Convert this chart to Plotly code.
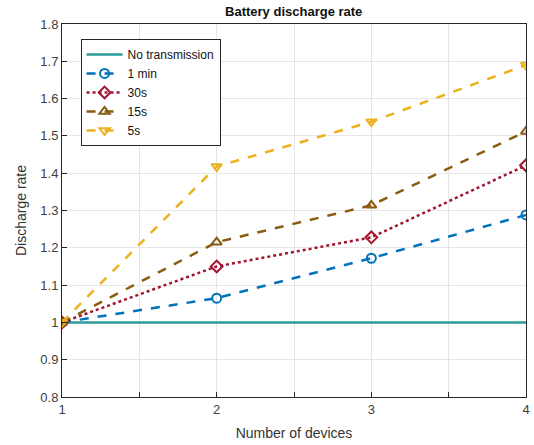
import plotly.graph_objects as go

devices = [1, 2, 3, 4]
no_transmission = [1.0, 1.0, 1.0, 1.0]
rate_1min = [1.0, 1.065, 1.172, 1.288]
rate_30s = [1.0, 1.150, 1.228, 1.421]
rate_15s = [1.0, 1.215, 1.314, 1.512]
rate_5s = [1.0, 1.418, 1.538, 1.690]

series = [
    ("No transmission", no_transmission, "#2a9d98", "solid", None),
    ("1 min", rate_1min, "#0072BD", "dash", "circle-open"),
    ("30s", rate_30s, "#A2142F", "dot", "diamond-open"),
    ("15s", rate_15s, "#8a5c12", "dash", "triangle-up-open"),
    ("5s", rate_5s, "#EDB120", "dash", "triangle-down-open"),
]

FONT = "Liberation Sans, Arial"

fig = go.Figure()
for name, vals, color, dash, symbol in series:
    fig.add_trace(go.Scatter(
        x=devices, y=vals, name=name,
        mode="lines" if symbol is None else "lines+markers",
        line=dict(color=color, width=2.5, dash=dash),
        marker=dict(symbol=symbol or "circle", size=9, color=color,
                    line=dict(width=2, color=color)),
    ))

axis_common = dict(
    showline=True, linecolor="#262626", linewidth=1, mirror=True,
    showgrid=True, gridcolor="#e6e6e6", gridwidth=1,
    ticks="inside", ticklen=5, tickcolor="#262626",
    tickfont=dict(family=FONT, size=13, color="#404040"),
    zeroline=False,
)

fig.update_layout(
    width=534, height=445,
    margin=dict(l=62, r=4, t=24, b=48),
    paper_bgcolor="white", plot_bgcolor="white",
    title=dict(text="<b>Battery discharge rate</b>", x=0.55, xanchor="center",
               y=0.985, yanchor="top",
               font=dict(family=FONT, size=13, color="#111")),
    xaxis=dict(range=[1, 4], tickvals=[1, 1.5, 2, 2.5, 3, 3.5, 4],
               ticktext=["1", "", "2", "", "3", "", "4"],
               title=dict(text="Number of devices", standoff=12,
                          font=dict(family=FONT, size=14, color="#333")),
               **axis_common),
    yaxis=dict(range=[0.8, 1.8], dtick=0.1,
               title=dict(text="Discharge rate", standoff=10,
                          font=dict(family=FONT, size=14, color="#333")),
               **axis_common),
    legend=dict(x=0.04, y=0.96, xanchor="left", yanchor="top",
                bgcolor="white", bordercolor="#262626", borderwidth=1,
                font=dict(family=FONT, size=12, color="#111"),
                tracegroupgap=0, itemwidth=36),
    showlegend=True,
)

fig.write_html("out.html")
